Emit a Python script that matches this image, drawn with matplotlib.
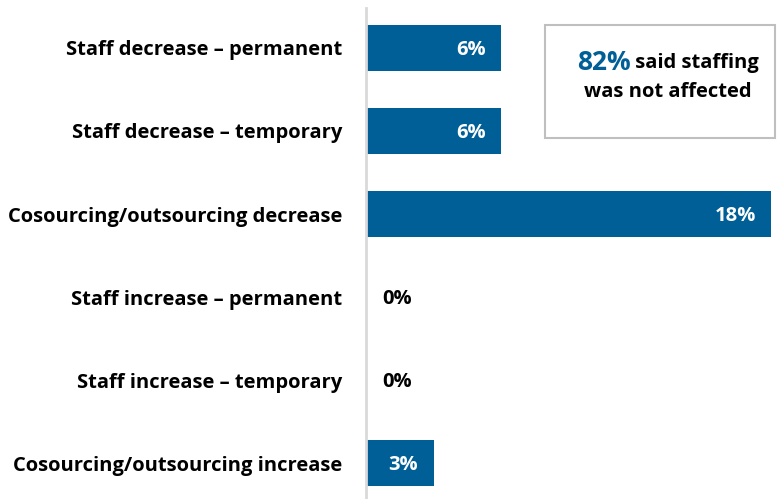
import matplotlib.pyplot as plt
from matplotlib.patches import Rectangle

categories = [
    'Staff decrease – permanent',
    'Staff decrease – temporary',
    'Cosourcing/outsourcing decrease',
    'Staff increase – permanent',
    'Staff increase – temporary',
    'Cosourcing/outsourcing increase',
]
values = [6, 6, 18, 0, 0, 3]
not_affected = 82

BLUE = '#005f96'
W, H = 782, 499
FS = 14.5

plt.rcParams['font.family'] = ['Open Sans', 'DejaVu Sans']
plt.rcParams['font.weight'] = 'bold'

fig = plt.figure(figsize=(W / 100, H / 100), dpi=100)
ax = fig.add_axes([366 / W, 0, (771 - 366) / W, 1 - 8 / H])

y = list(range(len(categories)))
ax.barh(y, values, height=0.55, color=BLUE)
ax.set_xlim(0, 18)
ax.set_ylim(5.43, -0.48)

ax.set_yticks(y)
ax.set_yticklabels(categories, fontsize=FS, fontweight='bold', color='black')
ax.tick_params(axis='y', length=0, pad=17)
ax.set_xticks([])
for side in ['top', 'right', 'bottom']:
    ax.spines[side].set_visible(False)
ax.spines['left'].set_color('#d9d9d9')
ax.spines['left'].set_linewidth(2)

# value labels: inside the bar end, or just right of the axis for zero
for yi, v in zip(y, values):
    if v > 0:
        ax.annotate(f'{v}%', (v, yi), xytext=(-11, -1.5), textcoords='offset points',
                    ha='right', va='center', color='white', fontsize=FS, fontweight='bold')
    else:
        ax.annotate(f'{v}%', (0, yi), xytext=(11.5, -1.5), textcoords='offset points',
                    ha='left', va='center', color='black', fontsize=FS, fontweight='bold')

# callout box
fig.patches.append(Rectangle((545 / W, 1 - 138 / H), (775 - 545) / W, (138 - 25) / H,
                             transform=fig.transFigure, facecolor='white',
                             edgecolor='#bfbfbf', linewidth=1.5))
cx = 668
big = fig.text(0, 1 - 62 / H, f'{not_affected}%', ha='left', va='center',
               color=BLUE, fontsize=19, fontweight='bold')
rest = fig.text(0, 1 - 63 / H, ' said staffing', ha='left', va='center',
                color='black', fontsize=FS, fontweight='bold')
r = fig.canvas.get_renderer()
w1 = big.get_window_extent(r).width
w2 = rest.get_window_extent(r).width
x0 = cx - (w1 + w2) / 2
big.set_x(x0 / W)
rest.set_x((x0 + w1) / W)
fig.text(cx / W, 1 - 92 / H, 'was not affected', ha='center', va='center',
         color='black', fontsize=FS, fontweight='bold')

fig.savefig('out.png', dpi=100)
